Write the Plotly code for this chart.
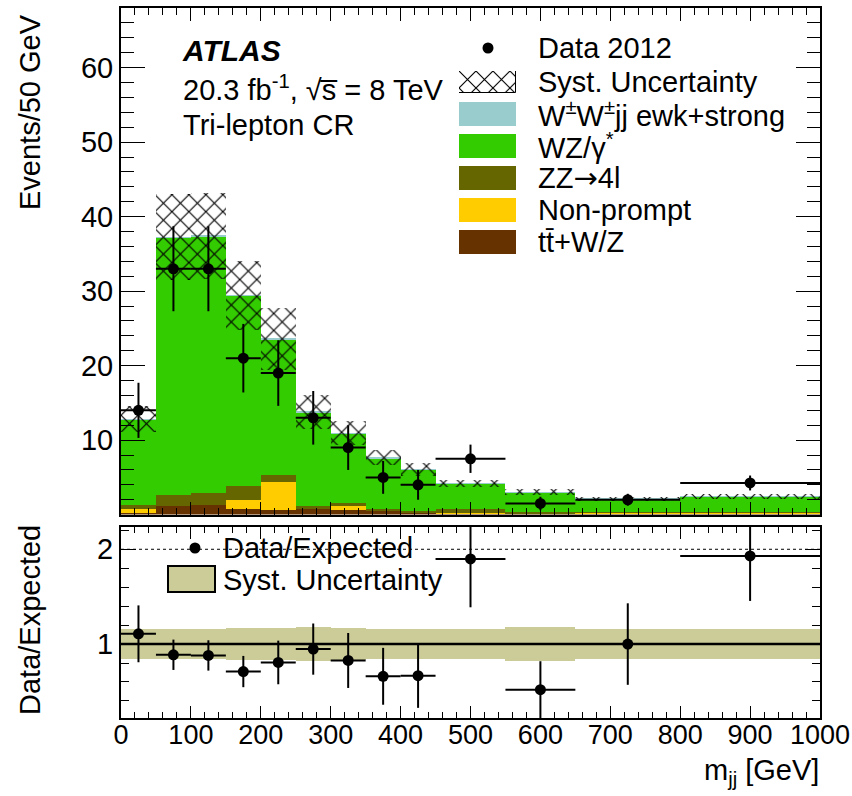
import numpy as np
import plotly.graph_objects as go

# ---------------- data ----------------
bin_edges = [0, 50, 100, 150, 200, 250, 300, 350, 400, 450, 550, 650, 800, 1000]
data_vals = [14, 33, 33, 21, 19, 13, 9, 5, 4, 7.5, 1.5, 2.0, 4.25]
data_errs = [3.7, 5.7, 5.7, 4.6, 4.4, 3.6, 3.0, 2.2, 2.0, 1.9, 0.9, 0.8, 1.0]

ttvz      = [0.25, 1.14, 1.27, 0.74, 0.60, 0.70, 0.60, 0.50, 0.30, 0.20, 0.15, 0.10, 0.10]
nonprompt = [0.45, 0.00, 0.00, 1.16, 3.80, 0.00, 0.54, 0.10, 0.05, 0.05, 0.05, 0.15, 0.15]
zz4l      = [0.60, 1.46, 1.60, 1.97, 0.90, 0.44, 0.44, 0.20, 0.10, 0.50, 0.10, 0.05, 0.05]
wz        = [11.45, 34.6, 34.5, 25.5, 18.25, 12.6, 9.3, 6.8, 5.55, 3.4, 2.65, 1.78, 2.13]
wwjj      = [0.05, 0.05, 0.05, 0.05, 0.05, 0.05, 0.05, 0.05, 0.05, 0.05, 0.05, 0.05, 0.05]
syst      = [1.75, 5.8, 5.8, 4.6, 4.2, 2.25, 1.6, 1.0, 0.85, 0.5, 0.4, 0.3, 0.35]

ratio_vals = [1.108, 0.887, 0.88, 0.71, 0.806, 0.947, 0.827, 0.66, 0.667, 1.898, 0.519, 1.0, 1.93]
ratio_errs = [0.30, 0.16, 0.16, 0.165, 0.23, 0.27, 0.29, 0.30, 0.34, 0.51, 0.30, 0.43, 0.475]
ratio_syst = [0.16, 0.16, 0.16, 0.165, 0.165, 0.175, 0.165, 0.16, 0.16, 0.16, 0.175, 0.16, 0.16]

x_ticks = [0, 100, 200, 300, 400, 500, 600, 700, 800, 900, 1000]

# ---------------- styling ----------------
FONT = "Liberation Sans, Arial, Helvetica, sans-serif"
FS = 29
FS_XT = 27
C_WW = "#99cccc"
C_WZ = "#33cc00"
C_ZZ = "#666600"
C_NP = "#ffcc00"
C_TT = "#663300"
C_BAND = "#cccc99"

W, H = 852, 796
L, R, T, B = 121, 820, 8, 718


def px2x(px):
    return (px - L) / (R - L)


def py2y(py):
    return (B - py) / (B - T)


edges = np.array(bin_edges, dtype=float)
centers = 0.5 * (edges[1:] + edges[:-1])
widths = edges[1:] - edges[:-1]

stack = [("tt", ttvz, C_TT), ("np", nonprompt, C_NP), ("zz", zz4l, C_ZZ),
         ("wz", wz, C_WZ), ("ww", wwjj, C_WW)]

HATCH = dict(shape="x", fgcolor="black", size=12, solidity=0.18, fillmode="replace")

fig = go.Figure()
base = np.zeros(len(centers))
for name, vals, col in stack:
    v = np.array(vals, dtype=float)
    fig.add_trace(go.Bar(x=centers, y=v, base=base.copy(), width=widths,
                         marker=dict(color=col, line=dict(width=0)),
                         xaxis="x", yaxis="y", showlegend=False, hoverinfo="skip"))
    base = base + v
total = base
s = np.array(syst)
fig.add_trace(go.Bar(x=centers, y=2 * s, base=total - s, width=widths,
                     marker=dict(color="rgba(0,0,0,0)", line=dict(width=0),
                                 pattern=dict(bgcolor="rgba(0,0,0,0)", **HATCH)),
                     xaxis="x", yaxis="y", showlegend=False, hoverinfo="skip"))
fig.add_trace(go.Scatter(x=centers, y=data_vals, mode="markers",
                         marker=dict(color="black", size=11),
                         error_y=dict(type="data", array=data_errs, color="black",
                                      thickness=2, width=0),
                         error_x=dict(type="data", array=widths / 2, color="black",
                                      thickness=2, width=0),
                         xaxis="x", yaxis="y", showlegend=False))

# ratio panel
rs = np.array(ratio_syst)
fig.add_trace(go.Bar(x=centers, y=2 * rs, base=1 - rs, width=widths,
                     marker=dict(color=C_BAND, line=dict(width=0)),
                     xaxis="x2", yaxis="y2", showlegend=False, hoverinfo="skip"))
fig.add_trace(go.Scatter(x=centers, y=ratio_vals, mode="markers",
                         marker=dict(color="black", size=11),
                         error_y=dict(type="data", array=ratio_errs, color="black",
                                      thickness=2, width=0),
                         error_x=dict(type="data", array=widths / 2, color="black",
                                      thickness=2, width=0),
                         xaxis="x2", yaxis="y2", showlegend=False))

# hatch legend swatch drawn on a small hidden axis
fig.add_trace(go.Bar(x=[0.5], y=[1], width=[1], base=[0],
                     marker=dict(color="white", line=dict(width=1, color="black"),
                                 pattern=dict(bgcolor="white", **HATCH)),
                     xaxis="x3", yaxis="y3", showlegend=False, hoverinfo="skip"))

top_dom = [py2y(514.5), 1]
bot_dom = [0, py2y(527)]

axis_common = dict(showline=True, linecolor="black", linewidth=2, mirror="allticks",
                   ticks="inside", tickcolor="black", showgrid=False, zeroline=False,
                   automargin=False)

fig.update_layout(
    width=W, height=H,
    margin=dict(l=L, r=W - R, t=T, b=H - B, autoexpand=False),
    paper_bgcolor="white", plot_bgcolor="white",
    barmode="overlay", bargap=0,
    font=dict(family=FONT, size=FS, color="black"),
    xaxis=dict(domain=[0, 1], range=[0, 1000], anchor="y", showticklabels=False,
               dtick=100, tick0=0, ticklen=13, tickwidth=1,
               minor=dict(ticks="inside", ticklen=7, dtick=20, tick0=0,
                          tickcolor="black", tickwidth=1),
               **axis_common),
    yaxis=dict(domain=top_dom, range=[0.02, 68], anchor="x",
               dtick=10, tick0=0, ticklen=24, tickwidth=1,
               tickfont=dict(family=FONT, size=FS, color="black"),
               minor=dict(ticks="inside", ticklen=13, dtick=2, tick0=0,
                          tickcolor="black", tickwidth=1),
               **axis_common),
    xaxis2=dict(domain=[0, 1], range=[0, 1000], anchor="y2",
                tickmode="array", tickvals=x_ticks, ticklen=12, tickwidth=1,
                tickfont=dict(family=FONT, size=FS_XT, color="black"),
                ticklabelstandoff=-8,
                minor=dict(ticks="inside", ticklen=6, dtick=20, tick0=0,
                           tickcolor="black", tickwidth=1),
                **axis_common),
    yaxis2=dict(domain=bot_dom, range=[0.22, 2.235], anchor="x2",
                dtick=1, tick0=0, ticklen=15, tickwidth=1,
                tickfont=dict(family=FONT, size=FS, color="black"),
                minor=dict(ticks="inside", ticklen=8, dtick=0.2, tick0=0,
                           tickcolor="black", tickwidth=1),
                **axis_common),
    xaxis3=dict(domain=[px2x(459), px2x(516)], range=[0, 1], visible=False,
                anchor="y3", fixedrange=True),
    yaxis3=dict(domain=[py2y(93), py2y(71)], range=[0, 1], visible=False,
                anchor="x3", fixedrange=True),
)

shapes = []
# ratio panel reference lines
shapes.append(dict(type="line", xref="x2", yref="y2", x0=0, x1=1000, y0=2, y1=2,
                   line=dict(color="black", width=1, dash="dot"), layer="below"))
# ratio legend background
shapes.append(dict(type="rect", xref="paper", yref="paper",
                   x0=px2x(150), x1=px2x(423), y0=py2y(600), y1=py2y(531),
                   fillcolor="white", line=dict(width=0), layer="below"))
shapes.append(dict(type="line", xref="x2", yref="y2", x0=0, x1=1000, y0=1, y1=1,
                   line=dict(color="black", width=2.5), layer="above"))

# top legend swatches
ARROW = "<span style='font-family:DejaVu Sans'>→</span>"
leg_items = [
    (C_WW, "W<sup>±</sup>W<sup>±</sup>jj ewk+strong", 114),
    (C_WZ, "WZ/γ<sup>*</sup>", 146),
    (C_ZZ, "ZZ" + ARROW + "4l", 178),
    (C_NP, "Non-prompt", 210),
    (C_TT, "tt̄+W/Z", 242),
]
for col, lab, yc in leg_items:
    shapes.append(dict(type="rect", xref="paper", yref="paper",
                       x0=px2x(459), x1=px2x(516), y0=py2y(yc + 12), y1=py2y(yc - 12),
                       fillcolor=col, line=dict(width=0), layer="above"))
# data marker in legend
shapes.append(dict(type="circle", xref="paper", yref="paper",
                   x0=px2x(482.5), x1=px2x(493.5), y0=py2y(53.5), y1=py2y(42.5),
                   fillcolor="black", line=dict(width=0)))
# ratio legend
shapes.append(dict(type="circle", xref="paper", yref="paper",
                   x0=px2x(189.5), x1=px2x(200.5), y0=py2y(553.5), y1=py2y(542.5),
                   fillcolor="black", line=dict(width=0)))
shapes.append(dict(type="rect", xref="paper", yref="paper",
                   x0=px2x(168), x1=px2x(215), y0=py2y(592), y1=py2y(566),
                   fillcolor=C_BAND, line=dict(width=2, color="black")))
fig.update_layout(shapes=shapes)

ann = []


def text(px, py, s, xanchor="left", yanchor="middle", size=FS, angle=0):
    ann.append(dict(x=px2x(px), y=py2y(py), xref="paper", yref="paper", text=s,
                    showarrow=False, xanchor=xanchor, yanchor=yanchor, textangle=angle,
                    font=dict(family=FONT, size=size, color="black")))


text(536, 48, "Data 2012")
text(536, 82, "Syst. Uncertainty")
for col, lab, yc in leg_items:
    text(536, yc, lab)
text(180, 50, "<b><i>ATLAS</i></b>", size=30)
text(181, 88, "20.3 fb<sup>-1</sup>, √s\u0305 = 8 TeV")
text(181, 125, "Tri-lepton CR")
text(221, 548, "Data/Expected")
text(221, 580, "Syst. Uncertainty")
text(30, 112, "Events/50 GeV", xanchor="center", yanchor="middle", angle=-90)
text(30, 620, "Data/Expected", xanchor="center", yanchor="middle", angle=-90)
text(821, 772, "m<sub>jj</sub> [GeV]", xanchor="right", yanchor="middle")
fig.update_layout(annotations=ann)

fig.write_html("out.html", config={"displayModeBar": False},
               post_script="document.body.style.margin='0';document.body.style.overflow='hidden';")
